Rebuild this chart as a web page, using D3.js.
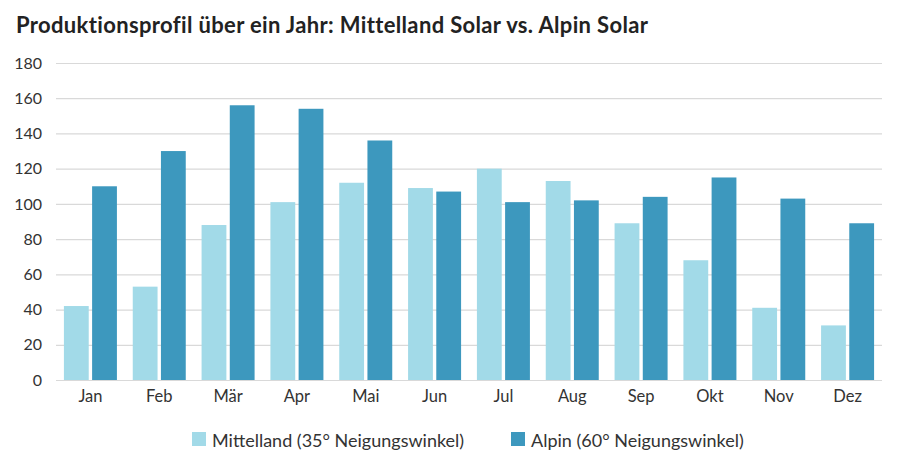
<!DOCTYPE html>
<html><head><meta charset="utf-8">
<script src="https://cdn.jsdelivr.net/npm/d3@7"></script>
<style>body{margin:0;background:#fff;}svg{display:block;font-family:Lato,"Open Sans",sans-serif;}</style>
</head><body><svg id="c" width="900" height="466"></svg>
<script>
const months = ["Jan","Feb","Mär","Apr","Mai","Jun","Jul","Aug","Sep","Okt","Nov","Dez"];
const mittelland = [42,53,88,101,112,109,120,113,89,68,41,31];
const alpin = [110,130,156,154,136,107,101,102,104,115,103,89];
const seriesNames = ["Mittelland (35° Neigungswinkel)","Alpin (60° Neigungswinkel)"];
const colors = ["#a2dae8","#3d98be"];
const yTicks = [0,20,40,60,80,100,120,140,160,180];

const svg = d3.select("#c");
const m = {left:56, right:18, top:63, bottom:86};
const W = 900, H = 466;
const x = d3.scaleBand().domain(months).range([m.left, W-m.right]).paddingInner(0.23).paddingOuter(0.115);
const x1 = d3.scaleBand().domain([0,1]).range([0, x.bandwidth()]).paddingInner(0.12);
const y = d3.scaleLinear().domain([0,180]).range([H-m.bottom, m.top]);

svg.append("text").attr("x",16).attr("y",33).attr("font-size",22).attr("font-weight",700)
  .attr("letter-spacing",0.35).attr("fill","#222").text("Produktionsprofil über ein Jahr: Mittelland Solar vs. Alpin Solar");

const yAxis = svg.append("g").attr("transform",`translate(${m.left},0)`)
  .call(d3.axisLeft(y).tickValues(yTicks).tickSize(-(W-m.left-m.right)).tickPadding(14));
yAxis.select(".domain").remove();
yAxis.selectAll(".tick line").attr("stroke","#d9d9d9").attr("stroke-width",1.2);
yAxis.selectAll(".tick text").attr("font-size",16).attr("fill","#333").attr("font-family","Lato,sans-serif");

const g = svg.append("g");
months.forEach((mo,i)=>{
  [mittelland[i], alpin[i]].forEach((v,k)=>{
    g.append("rect").attr("x", x(mo)+x1(k)).attr("width", x1.bandwidth())
      .attr("y", y(v)).attr("height", y(0)-y(v)).attr("fill", colors[k]);
  });
});

const xAxis = svg.append("g").attr("transform",`translate(0,${y(0)})`)
  .call(d3.axisBottom(x).tickSize(0).tickPadding(10));
xAxis.select(".domain").remove();
xAxis.selectAll(".tick text").attr("font-size",16.5).attr("fill","#333").attr("font-family","Lato,sans-serif");

const leg = svg.append("g");
const legX = [192, 511];
seriesNames.forEach((n,k)=>{
  leg.append("rect").attr("x",legX[k]).attr("y",432).attr("width",14).attr("height",14).attr("fill",colors[k]);
  leg.append("text").attr("x",legX[k]+20).attr("y",447).attr("font-size",18).attr("fill","#333").text(n);
});
</script></body></html>
